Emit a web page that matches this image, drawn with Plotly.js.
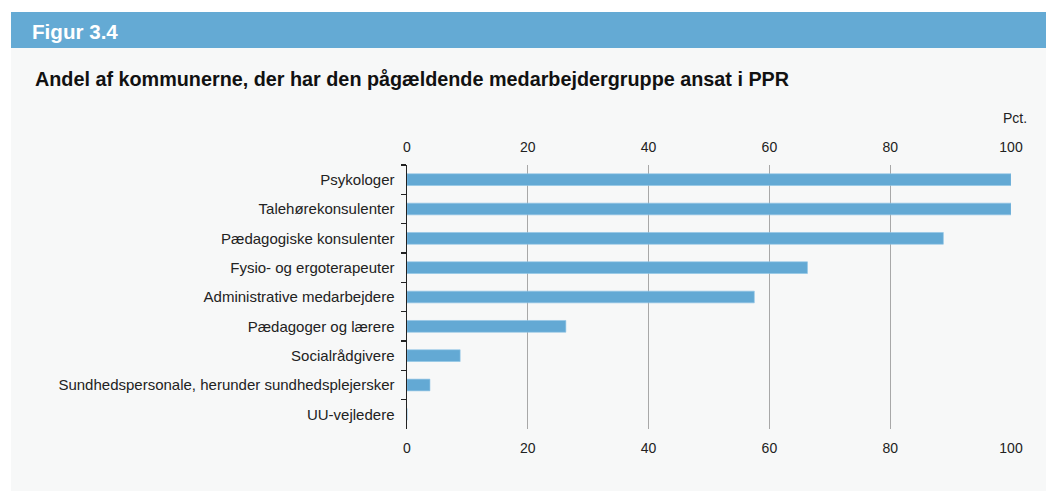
<!DOCTYPE html>
<html>
<head>
<meta charset="utf-8">
<script src="https://cdn.plot.ly/plotly-3.0.1.min.js"></script>
<style>html,body{margin:0;padding:0;background:#fff;}#chart{width:1056px;height:504px;}</style>
</head>
<body>
<div id="chart"></div>
<script>
const categories = [
  "Psykologer",
  "Talehørekonsulenter",
  "Pædagogiske konsulenter",
  "Fysio- og ergoterapeuter",
  "Administrative medarbejdere",
  "Pædagoger og lærere",
  "Socialrådgivere",
  "Sundhedspersonale, herunder sundhedsplejersker",
  "UU-vejledere"
];
const values = [100, 100, 88.8, 66.3, 57.5, 26.3, 8.8, 3.8, 0];
const tickValues = [0, 20, 40, 60, 80, 100];
const figureLabel = "Figur 3.4";
const chartTitle = "Andel af kommunerne, der har den pågældende medarbejdergruppe ansat i PPR";
const unitLabel = "Pct.";

// layout geometry (pixels)
const W = 1056, H = 504;
const L = 407, R = 1011, T = 165, B = 429;
const pw = R - L, ph = B - T;
const px = x => (x - L) / pw;
const py = y => (B - y) / ph;

const barColor = "#63a9d4";
const font = "Arial, 'Liberation Sans', Helvetica, sans-serif";

const traces = [
  {
    type: "bar", orientation: "h",
    x: values, y: categories,
    marker: {color: barColor, line: {color: "#8ec4e6", width: 0.6}},
    hoverinfo: "x+y",
    xaxis: "x", yaxis: "y"
  },
  {
    type: "bar", orientation: "h",
    x: values, y: categories,
    marker: {color: "rgba(0,0,0,0)", line: {width: 0}},
    hoverinfo: "skip", showlegend: false,
    xaxis: "x2", yaxis: "y"
  }
];

const axisCommon = {
  range: [0, 100],
  tickvals: tickValues,
  ticktext: tickValues.map(String),
  showgrid: true,
  gridcolor: "#a8a8a8",
  gridwidth: 1,
  zeroline: false,
  showline: false,
  ticks: "",
  ticklabelstandoff: 9,
  tickfont: {family: font, size: 14, color: "#222"},
  fixedrange: true
};

const layout = {
  width: W, height: H,
  margin: {l: L, r: W - R, t: T, b: H - B, pad: 0},
  paper_bgcolor: "#ffffff",
  plot_bgcolor: "rgba(0,0,0,0)",
  showlegend: false,
  barmode: "overlay",
  bargap: 0.6,
  xaxis: Object.assign({}, axisCommon, {side: "bottom"}),
  xaxis2: Object.assign({}, axisCommon, {side: "top", overlaying: "x", showgrid: false}),
  yaxis: {
    type: "category",
    autorange: "reversed",
    showline: true, linecolor: "#222", linewidth: 1.5,
    ticks: "outside", ticklen: 5, tickcolor: "#222", tickwidth: 1.2,
    tickson: "boundaries",
    ticklabelstandoff: 8,
    showgrid: false, zeroline: false,
    tickfont: {family: font, size: 15, color: "#222"},
    fixedrange: true
  },
  shapes: [
    {type: "rect", xref: "paper", yref: "paper", layer: "below",
     x0: px(11), x1: px(1046), y0: py(491), y1: py(48),
     fillcolor: "#f7f8f8", line: {width: 0}},
    {type: "rect", xref: "paper", yref: "paper", layer: "below",
     x0: px(11), x1: px(1046), y0: py(48), y1: py(12),
     fillcolor: "#64aad4", line: {width: 0}}
  ],
  annotations: [
    {text: "<b>" + figureLabel + "</b>", xref: "paper", yref: "paper",
     x: px(30), y: py(31), xanchor: "left", yanchor: "middle", showarrow: false,
     font: {family: font, size: 20.6, color: "#ffffff"}},
    {text: "<b>" + chartTitle + "</b>", xref: "paper", yref: "paper",
     x: px(33), y: py(79), xanchor: "left", yanchor: "middle", showarrow: false,
     font: {family: font, size: 19.8, color: "#111"}},
    {text: unitLabel, xref: "paper", yref: "paper",
     x: px(1029), y: py(118), xanchor: "right", yanchor: "middle", showarrow: false,
     font: {family: font, size: 14, color: "#222"}}
  ]
};

Plotly.newPlot("chart", traces, layout, {displayModeBar: false, staticPlot: true});
</script>
</body>
</html>
